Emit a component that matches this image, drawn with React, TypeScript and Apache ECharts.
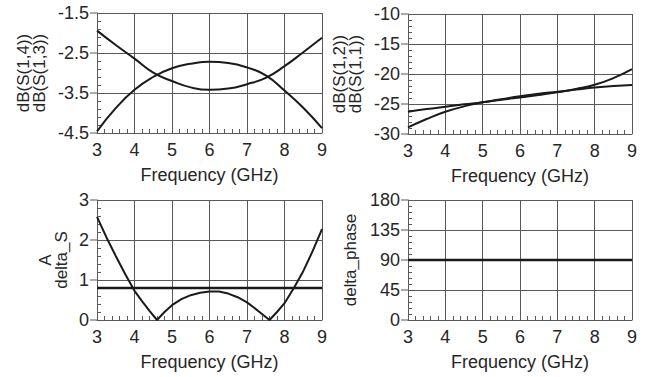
import React, { useEffect, useRef } from "react";
import * as echarts from "echarts";

// Frequency samples (GHz)
const freq = [3, 3.5, 4, 4.5, 5, 5.5, 6, 6.5, 7, 7.5, 8, 8.5, 9];
// Top-left: dB(S(1,4)) and dB(S(1,3))
const dbS14 = [-1.94, -2.3, -2.64, -2.99, -3.2, -3.36, -3.42, -3.39, -3.28, -3.12, -2.83, -2.48, -2.12];
const dbS13 = [-4.46, -3.88, -3.42, -3.1, -2.88, -2.77, -2.72, -2.75, -2.86, -3.06, -3.44, -3.87, -4.38];
// Top-right: dB(S(1,2)) and dB(S(1,1))
const dbS12 = [-28.9, -27.5, -26.3, -25.4, -24.7, -24.3, -23.9, -23.5, -23.05, -22.5, -21.8, -20.7, -19.2];
const dbS11 = [-26.3, -25.85, -25.45, -25.05, -24.7, -24.2, -23.7, -23.3, -22.95, -22.6, -22.25, -22.0, -21.85];
// Bottom-left: delta_S and A
const deltaFreq = [3, 3.25, 3.5, 3.75, 4, 4.2, 4.4, 4.6, 4.8, 5, 5.25, 5.5, 5.75, 6, 6.25, 6.5, 6.75, 7, 7.2, 7.4, 7.6, 7.8, 8, 8.25, 8.5, 8.75, 9];
const deltaS = [2.58, 2.07, 1.6, 1.15, 0.73, 0.47, 0.23, 0, 0.2, 0.37, 0.52, 0.62, 0.68, 0.71, 0.71, 0.66, 0.57, 0.44, 0.3, 0.15, 0, 0.2, 0.42, 0.8, 1.22, 1.72, 2.27];
const aFreq = [3, 9];
const aValue = [0.8, 0.8];
// Bottom-right: delta_phase
const phaseFreq = [3, 9];
const deltaPhase = [90, 90];

const FONT = "'Liberation Sans', Arial, sans-serif";
const FS = 18;
const TEXT = "#262626";
const GRID = "#595959";
const LINE = "#1a1a1a";

const grids = [
  { left: 97, top: 13, width: 225, height: 120 },
  { left: 408, top: 14, width: 224, height: 120 },
  { left: 97, top: 200, width: 225, height: 120 },
  { left: 408, top: 200, width: 224, height: 120 },
];

const yConf = [
  { min: -4.5, max: -1.5, interval: 1, name: "dB(S(1,4))\ndB(S(1,3))", gap: 50, fmt: (v: number) => v.toFixed(1) },
  { min: -30, max: -10, interval: 5, name: "dB(S(1,2))\ndB(S(1,1))", gap: 45, fmt: (v: number) => String(v) },
  { min: 0, max: 3, interval: 1, name: "A\ndelta_S", gap: 28, fmt: (v: number) => String(v) },
  { min: 0, max: 180, interval: 45, name: "delta_phase", gap: 50, fmt: (v: number) => String(v) },
];

function zip(xs: number[], ys: number[]) {
  return xs.map((x, i) => [x, ys[i]]);
}

export default function App() {
  const ref = useRef<HTMLDivElement>(null);
  useEffect(() => {
    if (!ref.current) return;
    const chart = echarts.init(ref.current, undefined, { renderer: "svg" });
    const xAxis: any[] = [];
    const yAxis: any[] = [];
    grids.forEach((_, gi) => {
      xAxis.push({
        type: "value",
        gridIndex: gi,
        min: 3,
        max: 9,
        interval: 1,
        axisLine: { show: true, onZero: false, lineStyle: { color: GRID, width: 1 } },
        axisTick: { show: true, inside: true, length: 4, lineStyle: { color: GRID, width: 1 } },
        minorTick: { show: true, splitNumber: 5, length: 4, lineStyle: { color: GRID, width: 1 } },
        axisLabel: { color: TEXT, fontSize: FS, fontFamily: FONT, margin: 8 },
        splitLine: { show: true, lineStyle: { color: GRID, width: 1 } },
        name: "Frequency (GHz)",
        nameLocation: "middle",
        nameGap: 33,
        nameTextStyle: { color: TEXT, fontSize: FS, fontFamily: FONT },
      });
      const yc = yConf[gi];
      yAxis.push({
        type: "value",
        gridIndex: gi,
        min: yc.min,
        max: yc.max,
        interval: yc.interval,
        axisLine: { show: true, onZero: false, lineStyle: { color: GRID, width: 1 } },
        axisTick: { show: true, inside: true, length: 4, lineStyle: { color: GRID, width: 1 } },
        minorTick: { show: true, splitNumber: 5, length: 4, lineStyle: { color: GRID, width: 1 } },
        axisLabel: {
          margin: 0,
          formatter: (v: number) => `{v|${yc.fmt(v)}}{t| }`,
          rich: {
            v: { color: TEXT, fontSize: FS, fontFamily: FONT, padding: [0, 1, 0, 0] },
            t: { width: 7, height: 1, fontSize: 1, lineHeight: 1, backgroundColor: GRID },
          },
        },
        splitLine: { show: true, lineStyle: { color: GRID, width: 1 } },
        name: yc.name,
        nameLocation: "middle",
        nameRotate: 90,
        nameGap: yc.gap,
        nameTextStyle: { color: TEXT, fontSize: 17, fontFamily: FONT, lineHeight: 16 },
      });
    });

    const lineSeries = (gi: number, data: number[][], width = 2, smooth: boolean | number = true) => ({
      type: "line",
      xAxisIndex: gi,
      yAxisIndex: gi,
      data,
      smooth,
      showSymbol: false,
      symbol: "none",
      lineStyle: { color: LINE, width },
      z: 5,
    });

    chart.setOption({
      animation: false,
      backgroundColor: "#ffffff",
      grid: grids.map((g) => ({ ...g, containLabel: false, outerBoundsMode: "none" })),
      xAxis,
      yAxis,
      series: [
        lineSeries(0, zip(freq, dbS14)),
        lineSeries(0, zip(freq, dbS13)),
        lineSeries(1, zip(freq, dbS12)),
        lineSeries(1, zip(freq, dbS11)),
        lineSeries(2, zip(deltaFreq, deltaS), 2, false),
        lineSeries(2, zip(aFreq, aValue), 2.5, false),
        lineSeries(3, zip(phaseFreq, deltaPhase), 2.5, false),
      ],
    });
    return () => chart.dispose();
  }, []);
  return (
    <div
      ref={ref}
      style={{ position: "absolute", left: 0, top: 0, width: 648, height: 377, background: "#fff" }}
    />
  );
}
